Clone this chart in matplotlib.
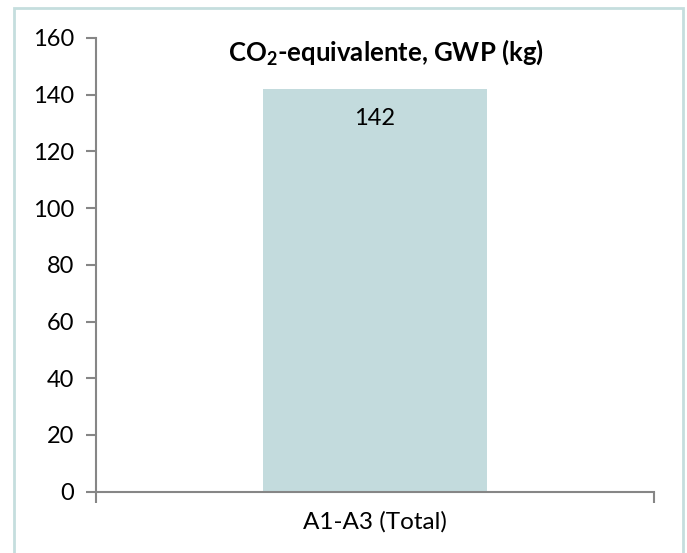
import matplotlib
matplotlib.use('Agg')
import matplotlib.pyplot as plt
from matplotlib.patches import Rectangle

categories = ['A1-A3 (Total)']
values = [142]
yticks = [0, 20, 40, 60, 80, 100, 120, 140, 160]

plt.rcParams['font.family'] = ['Lato', 'DejaVu Sans']
plt.rcParams['mathtext.fontset'] = 'custom'
plt.rcParams['mathtext.rm'] = 'Lato'
plt.rcParams['mathtext.bf'] = 'Lato:bold'

fig = plt.figure(figsize=(6.87, 5.53), dpi=100)
ax = fig.add_axes([96/687, 1-491.7/553, (654-96)/687, (491.7-38)/553])

# outer frame of the chart
fig.patches.append(Rectangle((14/687, -0.1), (683-14)/687, 1.1-8/553,
                             transform=fig.transFigure, fill=False,
                             edgecolor='#c5dede', linewidth=2))

xs = list(range(len(categories)))
bars = ax.bar(xs, values, width=0.4, color='#c3dbdd')
for x, v in zip(xs, values):
    ax.text(x, v - 10.5, str(v), ha='center', va='center', fontsize=17, color='black')

ax.set_xlim(-0.5, len(categories) - 0.5)
ax.set_ylim(0, 160)
ax.set_yticks(yticks)
ax.set_xticks(xs)
ax.set_xticklabels(categories, fontsize=17.5)
ax.set_xticks([-0.5, 0.5], minor=True)
ax.tick_params(axis='x', which='major', length=0, pad=14)
ax.tick_params(axis='x', which='minor', length=8, width=1.5, color='#868686', direction='out')
ax.tick_params(axis='y', length=7, width=1.5, color='#868686', labelsize=17, pad=9)

for s in ['top', 'right']:
    ax.spines[s].set_visible(False)
for s in ['left', 'bottom']:
    ax.spines[s].set_color('#868686')
    ax.spines[s].set_linewidth(1.5)

ax.text(0.52, 0.97, r'CO$_\mathbf{2}$-equivalente, GWP (kg)', transform=ax.transAxes,
        ha='center', va='center', fontsize=18.5, fontweight='bold')

fig.savefig('out.png', dpi=100)
